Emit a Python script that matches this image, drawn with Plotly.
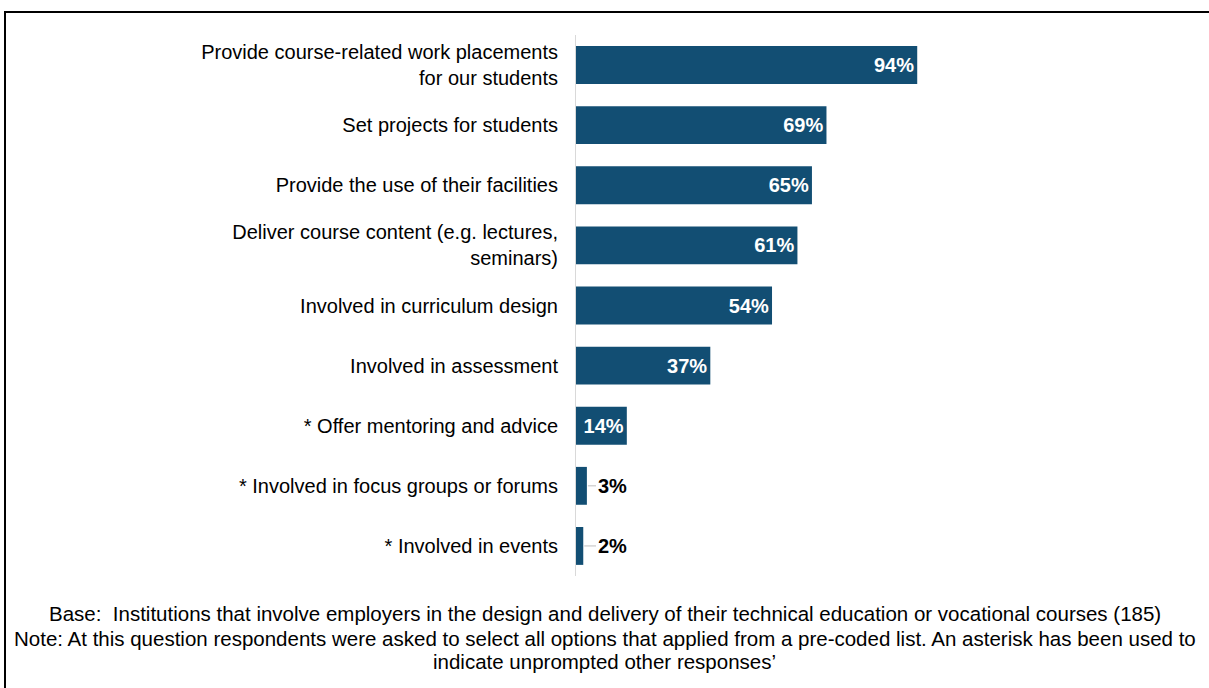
import plotly.graph_objects as go

# Ways employers are involved, top to bottom
categories = [
    "Provide course-related work placements<br>for our students",
    "Set projects for students",
    "Provide the use of their facilities",
    "Deliver course content (e.g. lectures,<br>seminars)",
    "Involved in curriculum design",
    "Involved in assessment",
    "* Offer mentoring and advice",
    "* Involved in focus groups or forums",
    "* Involved in events",
]
percentages = [94, 69, 65, 61, 54, 37, 14, 3, 2]

footer_lines = [
    "Base:  Institutions that involve employers in the design and delivery of their technical education or vocational courses (185)",
    "Note: At this question respondents were asked to select all options that applied from a pre-coded list. An asterisk has been used to",
    "indicate unprompted other responses\u2019",
]

W, H = 1209, 688
BAR = "#124E73"
FONT = "Liberation Sans, Arial, sans-serif"
FS = 20

# values too small to hold their label get it outside with a leader line
inside = [v >= 10 for v in percentages]
texts = [f"<b>{v}%</b>" if ok else "" for v, ok in zip(percentages, inside)]

fig = go.Figure(
    go.Bar(
        x=percentages,
        y=list(range(len(categories))),
        orientation="h",
        marker=dict(color=BAR, line=dict(width=0)),
        width=0.63,
        text=texts,
        textposition="inside",
        insidetextanchor="end",
        textfont=dict(color="white", size=FS, family=FONT),
        cliponaxis=False,
        hoverinfo="skip",
    )
)
fig.update_layout(uniformtext=dict(minsize=FS, mode="show"))

# outside labels: text box starts a fixed distance right of the axis
x_to_px = (939 - 576) / 100.0
for i, (v, ok) in enumerate(zip(percentages, inside)):
    if not ok:
        bar_end = 576 + v * x_to_px
        fig.add_annotation(
            x=v, y=i, xref="x", yref="y",
            text=f"<b>{v}%</b>",
            showarrow=True, arrowhead=0, arrowwidth=1, arrowcolor="#bfbfbf",
            ax=612 - bar_end, ay=0, standoff=1,
            font=dict(size=FS, color="black", family=FONT),
        )

# footer notes
for line, ypx in zip(footer_lines, [613, 638, 661]):
    fig.add_annotation(
        x=0.5, y=1 - ypx / H, xref="paper", yref="paper",
        text=line, showarrow=False, xanchor="center", yanchor="middle",
        font=dict(size=20.5, color="black", family=FONT),
    )

# outer frame
fig.add_shape(
    type="rect", xref="paper", yref="paper",
    x0=5 / W, x1=1.01, y0=-0.05, y1=1 - 12 / H,
    line=dict(color="black", width=2), fillcolor="rgba(0,0,0,0)",
)

fig.update_layout(
    width=W, height=H,
    margin=dict(l=0, r=0, t=0, b=0),
    paper_bgcolor="white", plot_bgcolor="white",
    showlegend=False,
    font=dict(family=FONT, size=FS, color="black"),
    xaxis=dict(
        domain=[576 / W, 939 / W], range=[0, 100],
        visible=False, fixedrange=True,
    ),
    yaxis=dict(
        domain=[1 - 576 / H, 1 - 35 / H],
        range=[len(categories) - 0.5, -0.5],
        tickmode="array",
        tickvals=list(range(len(categories))),
        ticktext=categories,
        showgrid=False, zeroline=False,
        showline=True, linecolor="#d9d9d9", linewidth=1,
        ticks="", ticklabelstandoff=13,
        tickfont=dict(size=FS, color="black", family=FONT),
        fixedrange=True,
    ),
)

fig.write_html("out.html")
